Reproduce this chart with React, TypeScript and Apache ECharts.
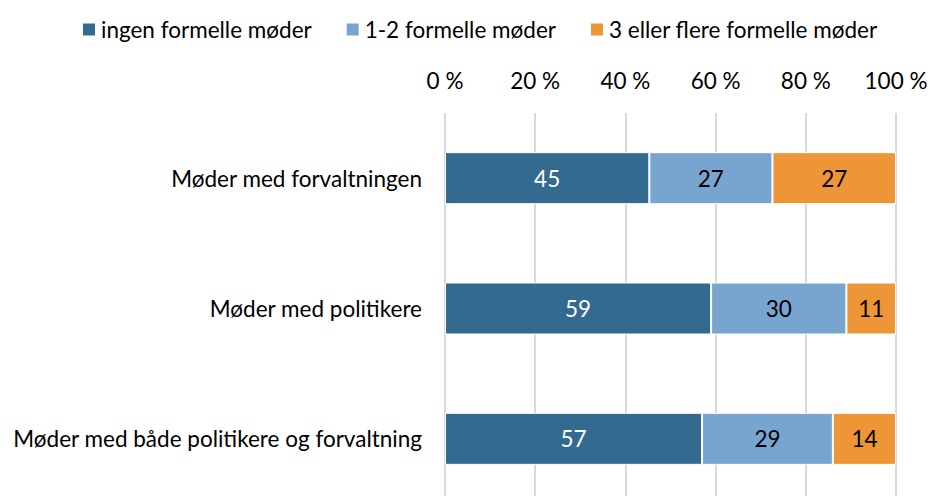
import React, { useEffect, useRef } from "react";
import * as echarts from "echarts";

const categories = [
  "Møder med forvaltningen",
  "Møder med politikere",
  "Møder med både politikere og forvaltning",
];
const seriesNames = ["ingen formelle møder", "1-2 formelle møder", "3 eller flere formelle møder"];
const ingen = [45.3, 59, 57];
const enTo = [27.3, 30, 29];
const treFlere = [27.4, 11, 14];
const tickLabels = ["0 %", "20 %", "40 %", "60 %", "80 %", "100 %"];
const colors = ["#336A90", "#78A5CF", "#EE9537"];
const labelColors = ["#ffffff", "#000000", "#000000"];

const FONT = "Lato, 'Open Sans', sans-serif";
const FS = 22.5;

export default function App() {
  const ref = useRef<HTMLDivElement>(null);
  useEffect(() => {
    if (!ref.current) return;
    const chart = echarts.init(ref.current, null, { renderer: "svg" });
    const data = [ingen, enTo, treFlere];
    chart.setOption({
      animation: false,
      textStyle: { fontFamily: FONT },
      legend: {
        top: 13,
        left: 76,
        itemWidth: 14,
        itemHeight: 14,
        itemGap: 33,
        icon: "rect",
        textStyle: { fontFamily: FONT, fontSize: FS, color: "#000" },
        data: seriesNames,
      },
      grid: {
        left: 445,
        right: 32,
        top: 113,
        bottom: -8,
        containLabel: false,
        outerBoundsMode: "none",
      },
      xAxis: {
        type: "value",
        position: "top",
        min: 0,
        max: 100,
        interval: 20,
        axisLine: { show: false },
        axisTick: { show: false },
        axisLabel: {
          margin: 21,
          fontFamily: FONT,
          fontSize: FS,
          color: "#000",
          formatter: (v: number) => tickLabels[Math.round(v / 20)],
        },
        splitLine: { show: true, lineStyle: { color: "#D9D9D9", width: 2 } },
      },
      yAxis: {
        type: "category",
        inverse: true,
        data: categories,
        axisLine: { show: false },
        axisTick: { show: false },
        axisLabel: { margin: 23, fontFamily: FONT, fontSize: FS, color: "#000" },
      },
      series: seriesNames.map((name, i) => ({
        name,
        type: "bar",
        stack: "total",
        barWidth: 52,
        data: data[i],
        itemStyle: { color: colors[i], borderColor: "#ffffff", borderWidth: 1 },
        label: {
          show: true,
          position: "inside",
          fontFamily: FONT,
          fontSize: FS,
          color: labelColors[i],
          formatter: (p: any) => String(Math.round(p.value)),
        },
      })),
    });
    return () => chart.dispose();
  }, []);
  return <div ref={ref} style={{ width: 928, height: 496, position: "absolute", left: 0, top: 0 }} />;
}
